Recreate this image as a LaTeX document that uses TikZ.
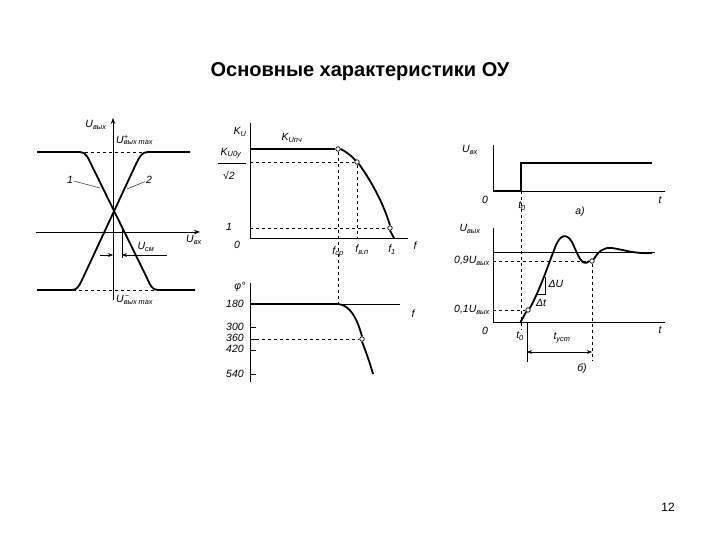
\documentclass[tikz,border=0pt]{standalone}
\usepackage{fontspec}
\setmainfont{Liberation Sans}
\usetikzlibrary{arrows.meta}
\begin{document}
\begin{tikzpicture}[x=1pt,y=-1pt,
  ax/.style={line width=0.8pt},
  crv/.style={line width=1.8pt},
  dsh/.style={dashed,line width=0.6pt},
  lb/.style={font=\itshape\fontsize{10.5}{11}\selectfont,inner sep=1pt},
  pt/.style={circle,draw,fill=white,inner sep=1.6pt,line width=0.7pt}]
\useasboundingbox (0,0) rectangle (720,540);
\node[font=\bfseries\fontsize{20}{24}\selectfont] (title) at (360,72) {Основные характеристики ОУ};
\node[font=\fontsize{12}{14}\selectfont] (pg) at (668,507) {12};
% ---- left panel
\coordinate (lyb) at (113,300); \coordinate (lyt) at (113,118);
\coordinate (lxl) at (36,232); \coordinate (lxr) at (200,232);
\draw[ax,-{Stealth[length=6pt]}] (lyb) -- (lyt);
\draw[ax,-{Stealth[length=6pt]}] (lxl) -- (lxr);
\draw[dsh] (37,152) -- (190,152);
\draw[dsh] (37,290) -- (195,290);
\draw[crv] (37,152) -- (80,152) .. controls (86,152) and (88,158) .. (92,166) -- (147,278) .. controls (150,285) and (152,290) .. (158,290) -- (195,290);
\draw[crv] (37,290) -- (72,290) .. controls (77,290) and (79,286) .. (82,280) -- (136,164) .. controls (140,156) and (142,152) .. (148,152) -- (190,152);
\node[lb] (l1) at (70,180) {1}; \coordinate (l1e) at (100,188); \draw (l1) -- (l1e);
\node[lb] (l2) at (149,180) {2}; \coordinate (l2e) at (127,189); \draw (l2) -- (l2e);
\node[lb] (luo) at (96,125) {U\textsubscript{вых}};
\node[lb,anchor=west] (lmax) at (115,140) {U\rlap{\textsuperscript{+}}\textsubscript{вых max}};
\node[lb,anchor=west] (lmin) at (115,300) {U\rlap{\textsuperscript{\kern1pt−}}\textsubscript{вых max}};
\node[lb] (lui) at (194,240) {U\textsubscript{вх}};
\node[lb] (lsm) at (146,247) {U\textsubscript{см}};
\coordinate (sv1) at (122,226); \coordinate (sv2) at (122,258);
\draw (sv1) -- (sv2);
\coordinate (sa1) at (100,255); \coordinate (sa2) at (113,255);
\coordinate (sb1) at (167,255); \coordinate (sb2) at (122,255);
\draw[-{Stealth[length=5pt]}] (sa1) -- (sa2);
\draw[-{Stealth[length=5pt]}] (sb1) -- (sb2);
% ---- middle upper
\coordinate (my1) at (250,123); \coordinate (my0) at (250,238); \coordinate (mx1) at (408,238);
\draw[ax] (my1) -- (my0) -- (mx1);
\node[pt] (p1) at (338,149) {};
\node[pt] (p2) at (357,162) {};
\node[pt] (p3) at (390,228) {};
\draw[crv] (250,149) -- (p1.west);
\draw[crv] (p1.east) .. controls (345,151) and (352,156) .. (p2.north west);
\draw[crv] (p2.south east) .. controls (372,182) and (384,205) .. (p3.north);
\draw[crv] (p3.south) -- (394,238);
\draw[dsh] (250,162) -- (p2.west);
\draw[dsh] (p2.south) -- (357,238);
\draw[dsh] (250,228) -- (p3.west);
\draw[dsh] (p1.south) -- (338,303);
\node[lb] (ku) at (240,132) {K\textsubscript{U}};
\node[lb] (kpc) at (292,138) {K\textsubscript{Uпч}};
\node[lb] (k0) at (231,153) {K\textsubscript{U0у}};
\draw (218,163) -- (246,163);
\node[lb] (k2) at (229,175) {√2};
\node[lb] (one) at (229,227) {1};
\node[lb] (zero) at (237,245) {0};
\node[lb] (fcp) at (338,252) {f\textsubscript{ср}};
\node[lb] (fvp) at (362,250) {f\textsubscript{в.п}};
\node[lb] (f1) at (392,250) {f\textsubscript{1}};
\node[lb] (f) at (415,246) {f};
% ---- middle lower
\coordinate (py1) at (250,283); \coordinate (py0) at (250,382);
\coordinate (px0) at (250,304); \coordinate (px1) at (400,304);
\draw[ax] (py1) -- (py0);
\draw[ax] (px0) -- (px1);
\node[pt] (p4) at (362,339) {};
\draw[crv] (250,304) -- (338,304) .. controls (350,305) and (357,318) .. (p4.north);
\draw[crv] (p4.south) .. controls (366,352) and (370,363) .. (373,374);
\draw[dsh] (250,339) -- (p4.west);
\foreach \yy in {327,339,350,374} \draw (250,\yy) -- (256,\yy);
\node[lb] (phi) at (240,287) {φ°};
\node[lb] (t180) at (235,304) {180};
\node[lb] (t300) at (235,327) {300};
\node[lb] (t360) at (235,338) {360};
\node[lb] (t420) at (235,349) {420};
\node[lb] (t540) at (235,374) {540};
\node[lb] (f2) at (413,314) {f};
% ---- right upper
\coordinate (ry1) at (493,145); \coordinate (ry0) at (493,191); \coordinate (rx1) at (665,191);
\draw[ax] (ry1) -- (ry0) -- (rx1);
\draw[crv] (493,191) -- (521,191) -- (521,163) -- (652,163);
\node[lb] (uin) at (470,150) {U\textsubscript{вх}};
\node[lb] (r0) at (485,200) {0};
\node[lb] (rt0) at (522,206) {t\textsubscript{0}};
\node[lb] (rt) at (660,200) {t};
\node[lb] (ra) at (580,212) {а)};
% ---- right lower
\coordinate (sy1) at (493,228); \coordinate (sy0) at (493,322); \coordinate (sx1) at (665,322);
\draw[ax] (sy1) -- (sy0) -- (sx1);
\draw (493,252) -- (655,252);
\node[pt] (q1) at (528,310) {};
\node[pt] (q2) at (592,261) {};
\draw[dsh] (493,261) -- (q2.west);
\draw[dsh] (493,310) -- (q1.west);
\draw[dsh] (521,191) -- (521,330);
\draw[crv] (520,323) -- (q1.south west);
\draw[crv] (q1.north east) .. controls (540,290) and (550,260) .. (556,245) .. controls (560,236) and (566,232) .. (572,242) .. controls (578,255) and (582,268) .. (q2.west);
\draw[crv] (q2.north east) .. controls (598,252) and (603,247) .. (612,248) .. controls (625,250) and (635,254) .. (652,253);
\draw (545,277) -- (545,294) -- (536,294);
\node[lb] (du) at (556,284) {ΔU};
\node[lb] (dt) at (541,303) {Δt};
\draw (527,322) -- (527,362);
\draw[dsh] (q2.south) -- (592,360);
\coordinate (ta) at (527,352); \coordinate (tb) at (592,352);
\draw[{Stealth[length=5pt]}-{Stealth[length=5pt]}] (ta) -- (tb);
\node[lb] (tust) at (562,338) {t\textsubscript{уст}};
\node[lb] (rb) at (582,369) {б)};
\node[lb] (uout) at (470,229) {U\textsubscript{вых}};
\node[lb,anchor=east] (u09) at (491,261) {0,9U\textsubscript{вых}};
\node[lb,anchor=east] (u01) at (491,310) {0,1U\textsubscript{вых}};
\node[lb] (s0) at (485,331) {0};
\node[lb] (st0) at (520,336) {t\textsubscript{0}};
\node[lb] (st) at (660,330) {t};
\end{tikzpicture}
\end{document}
